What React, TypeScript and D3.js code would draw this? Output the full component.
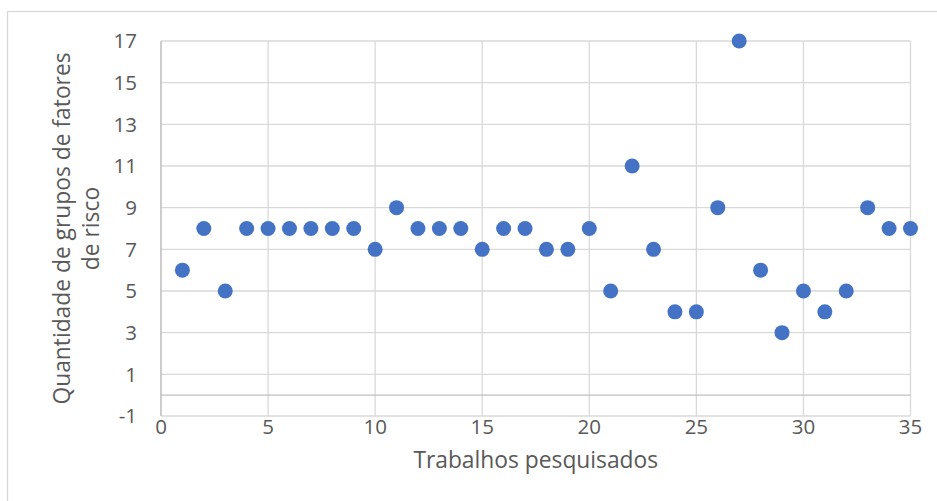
import React from "react";
import * as d3 from "d3";

// Number of risk-factor groups reported by each surveyed study
const studies: number[] = Array.from({ length: 35 }, (_, i) => i + 1);
const riskGroups: number[] = [
  6, 8, 5, 8, 8, 8, 8, 8, 8, 7,
  9, 8, 8, 8, 7, 8, 8, 7, 7, 8,
  5, 11, 7, 4, 4, 9, 17, 6, 3, 5,
  4, 5, 9, 8, 8,
];
const xTicks: number[] = [0, 5, 10, 15, 20, 25, 30, 35];
const yTicks: number[] = [-1, 1, 3, 5, 7, 9, 11, 13, 15, 17];
const xTitle = "Trabalhos pesquisados";
const yTitleLines: string[] = ["Quantidade de grupos de fatores", "de risco"];

const W = 937;
const H = 501;
const FONT = "'Open Sans', 'Noto Sans', sans-serif";

export default function App() {
  const x = d3.scaleLinear().domain([0, 35]).range([161, 910.5]);
  const y = d3.scaleLinear().domain([-1, 17]).range([416, 41]);
  const points = studies.map((s, i) => ({ s, v: riskGroups[i] }));

  return (
    <svg
      width={W}
      height={H}
      style={{ position: "absolute", left: 0, top: 0, background: "#fff" }}
      fontFamily={FONT}
    >
      <rect x={7.5} y={11.5} width={W + 10} height={H + 10} fill="#fff" stroke="#d9d9d9" strokeWidth={1.3} />

      {/* gridlines */}
      {yTicks.map((t) => (
        <line key={"gy" + t} x1={x(0)} x2={x(35)} y1={y(t)} y2={y(t)} stroke="#d9d9d9" strokeWidth={1.3} />
      ))}
      {xTicks.map((t) => (
        <line key={"gx" + t} x1={x(t)} x2={x(t)} y1={y(-1)} y2={y(17)} stroke="#d9d9d9" strokeWidth={1.3} />
      ))}

      {/* axis lines */}
      <line x1={x(0)} x2={x(35)} y1={y(0)} y2={y(0)} stroke="#bfbfbf" strokeWidth={1.3} />
      <line x1={x(0)} x2={x(0)} y1={y(-1)} y2={y(17)} stroke="#bfbfbf" strokeWidth={1.3} />

      {/* tick labels */}
      {yTicks.map((t) => (
        <text key={"ty" + t} x={137} y={y(t)} dy="0.36em" textAnchor="end" fontSize={20.5} fill="#595959">
          {t}
        </text>
      ))}
      {xTicks.map((t) => (
        <text key={"tx" + t} x={x(t)} y={434} textAnchor="middle" fontSize={20.5} fill="#595959">
          {t}
        </text>
      ))}

      {/* axis titles */}
      <text x={(x(0) + x(35)) / 2} y={468} textAnchor="middle" fontSize={22.8} fill="#595959">
        {xTitle}
      </text>
      <g transform={`translate(0, ${(y(-1) + y(17)) / 2}) rotate(-90)`}>
        {yTitleLines.map((line, i) => (
          <text key={i} x={0} y={70 + i * 29} textAnchor="middle" fontSize={22.8} fill="#595959">
            {line}
          </text>
        ))}
      </g>

      {/* markers */}
      {points.map((p) => (
        <circle key={p.s} cx={x(p.s)} cy={y(p.v)} r={7.5} fill="#4472c4" />
      ))}
    </svg>
  );
}
